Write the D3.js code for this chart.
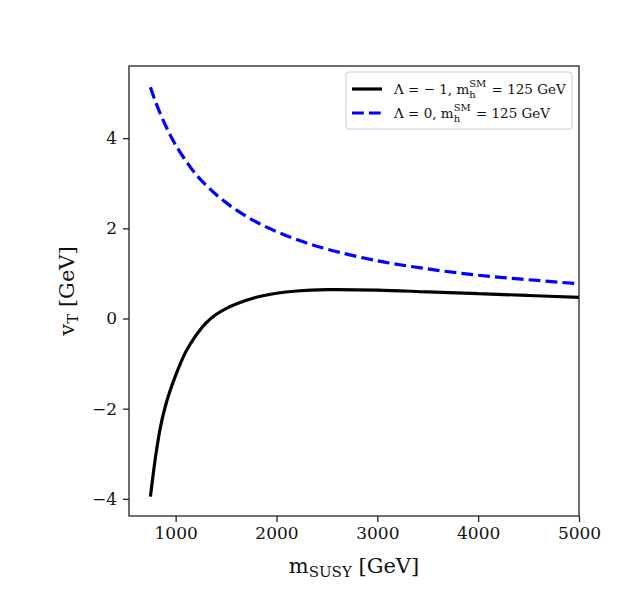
<!DOCTYPE html>
<html>
<head>
<meta charset="utf-8">
<script src="https://cdn.jsdelivr.net/npm/d3@7"></script>
<style>
  body { margin: 0; background: #fff; }
  svg { font-family: "DejaVu Serif", serif; }
</style>
</head>
<body>
<svg id="chart" width="617" height="600"></svg>
<script>
// m_SUSY values [GeV]
const mSusy = [750, 800, 850, 900, 950, 1000, 1100, 1200, 1300, 1400, 1500, 1600, 1800, 2000, 2200, 2500, 3000, 3500, 4000, 4500, 5000];
// Lambda = -1
const vtLambdaM1 = [-3.95, -3.08, -2.40, -1.93, -1.57, -1.26, -0.74, -0.38, -0.10, 0.09, 0.22, 0.32, 0.47, 0.56, 0.61, 0.64, 0.63, 0.59, 0.55, 0.51, 0.47];
// Lambda = 0
const vtLambda0 = [5.13, 4.81, 4.53, 4.28, 4.05, 3.85, 3.50, 3.20, 2.96, 2.75, 2.57, 2.41, 2.14, 1.93, 1.75, 1.54, 1.28, 1.10, 0.96, 0.86, 0.77];

const xTicks = [1000, 2000, 3000, 4000, 5000];
const yTicks = [-4, -2, 0, 2, 4];

const svg = d3.select('#chart');
const margin = { left: 129, right: 38, top: 66, bottom: 84 };
const width = 617 - margin.left - margin.right;
const height = 600 - margin.top - margin.bottom;

const x = d3.scaleLinear().domain([537.5, 5000]).range([0, width]);
const y = d3.scaleLinear().domain([-4.38, 5.6]).range([height, 0]);

const g = svg.append('g').attr('transform', `translate(${margin.left},${margin.top})`);

const fmt = d => (d < 0 ? '\u2212' + Math.abs(d) : String(d));

// axes
const xAxis = g.append('g')
  .attr('transform', `translate(0,${height})`)
  .call(d3.axisBottom(x).tickValues(xTicks).tickSize(6).tickPadding(5).tickFormat(fmt));
const yAxis = g.append('g')
  .call(d3.axisLeft(y).tickValues(yTicks).tickSize(6).tickPadding(6).tickFormat(fmt));

[xAxis, yAxis].forEach(a => {
  a.select('.domain').remove();
  a.selectAll('line').attr('stroke', '#222').attr('stroke-width', 1.3);
  a.selectAll('text').attr('fill', '#111').style('font-size', '17px')
    .style('font-family', '"DejaVu Serif", serif');
});

// curves
const line = d3.line()
  .x(d => x(d[0]))
  .y(d => y(d[1]))
  .curve(d3.curveCatmullRom.alpha(0.5));

g.append('path')
  .datum(d3.zip(mSusy, vtLambdaM1))
  .attr('fill', 'none')
  .attr('stroke', '#000')
  .attr('stroke-width', 3.2)
  .attr('d', line);

g.append('path')
  .datum(d3.zip(mSusy, vtLambda0))
  .attr('fill', 'none')
  .attr('stroke', '#0000ff')
  .attr('stroke-width', 3.2)
  .attr('stroke-dasharray', '11.8,5.1')
  .attr('d', line);

// frame
g.append('rect')
  .attr('width', width).attr('height', height)
  .attr('fill', 'none').attr('stroke', '#222').attr('stroke-width', 1.3);

// axis labels
const xl = svg.append('text')
  .attr('x', margin.left + width / 2)
  .attr('y', 573)
  .attr('text-anchor', 'middle')
  .style('font-size', '21px')
  .attr('fill', '#111');
xl.append('tspan').text('m');
xl.append('tspan').attr('baseline-shift', '-4').style('font-size', '15px').text('SUSY');
xl.append('tspan').text(' [GeV]');

const yl = svg.append('text')
  .attr('transform', `translate(74,${margin.top + height / 2}) rotate(-90)`)
  .attr('text-anchor', 'middle')
  .style('font-size', '21px')
  .attr('fill', '#111');
yl.append('tspan').text('v');
yl.append('tspan').attr('baseline-shift', '-4').style('font-size', '15px').text('T');
yl.append('tspan').text(' [GeV]');

// legend
const legend = g.append('g').attr('transform', `translate(${width - 233},6)`);
legend.append('rect')
  .attr('width', 226).attr('height', 57).attr('rx', 3)
  .attr('fill', '#fff').attr('fill-opacity', 0.8)
  .attr('stroke', '#ccc').attr('stroke-width', 1);

const entries = [
  { lam: '\u039b = \u2212 1, m', color: '#000', dash: null },
  { lam: '\u039b = 0, m', color: '#0000ff', dash: '11.8,5.1' }
];
entries.forEach((e, i) => {
  const yy = 17 + i * 24;
  legend.append('line')
    .attr('x1', 6).attr('x2', 36).attr('y1', yy).attr('y2', yy)
    .attr('stroke', e.color).attr('stroke-width', 3.2)
    .attr('stroke-dasharray', e.dash);
  const t = legend.append('text')
    .attr('x', 48).attr('y', yy + 5)
    .style('font-size', '13.5px')
    .attr('fill', '#111');
  t.append('tspan').text(e.lam);
  const sx = 48 + t.node().getComputedTextLength();
  t.append('tspan').attr('dy', 4).style('font-size', '10px').text('h');
  legend.append('text')
    .attr('x', sx).attr('y', yy - 2)
    .style('font-size', '10px').attr('fill', '#111').text('SM');
  const smw = 18;
  t.append('tspan').attr('x', sx + smw).attr('dy', -4).text(' = 125 GeV');
});
</script>
</body>
</html>
